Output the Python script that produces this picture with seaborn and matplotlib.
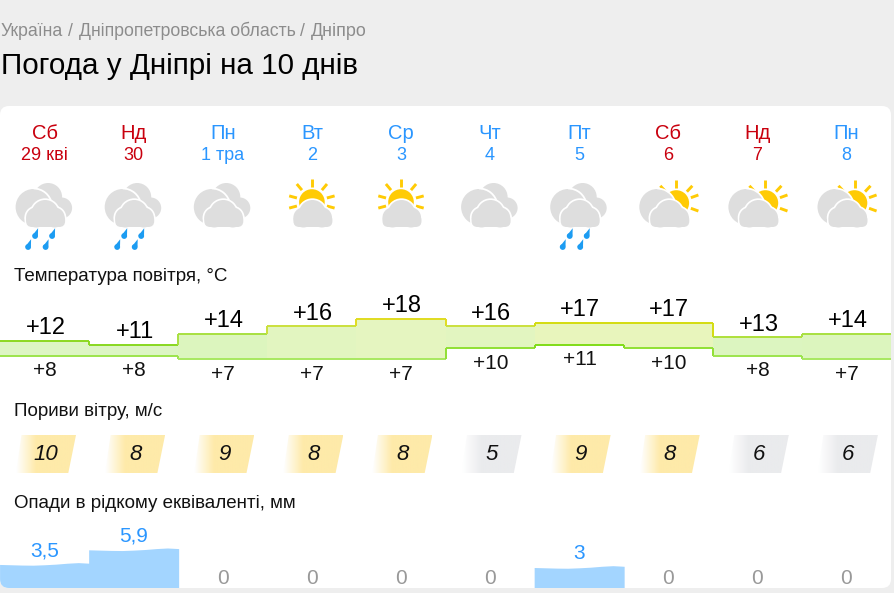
import numpy as np
import pandas as pd
import seaborn as sns
from matplotlib import pyplot as plt
from matplotlib import patches as mpatches
from matplotlib.colors import LinearSegmentedColormap

day_names = ["Сб", "Нд", "Пн", "Вт", "Ср", "Чт", "Пт", "Сб", "Нд", "Пн"]
day_dates = ["29 кві", "30", "1 тра", "2", "3", "4", "5", "6", "7", "8"]
weekend = [True, True, False, False, False, False, False, True, True, False]
icons = ["rain", "rain", "cloud", "sun", "sun", "cloud", "rain", "sunside", "sunside", "sunside"]
temp_high = [12, 11, 14, 16, 18, 16, 17, 17, 13, 14]
temp_low = [8, 8, 7, 7, 7, 10, 11, 10, 8, 7]
wind = [10, 8, 9, 8, 8, 5, 9, 8, 6, 6]
precip = [3.5, 5.9, 0, 0, 0, 0, 3, 0, 0, 0]
precip_labels = ["3,5", "5,9", "0", "0", "0", "0", "3", "0", "0", "0"]
# little wave on top of the water, in mm
wave = [0.0, -0.05, -0.1, -0.12, -0.05, 0.05, 0.2, 0.3, 0.2]

fill_colors = {11: "#dcf5c4", 12: "#ddf5c4", 13: "#dcf5c0", 14: "#dcf5be", 16: "#e2f5c0", 17: "#e8f5bc", 18: "#e5f5c0"}
high_edges = {11: "#88d820", 12: "#8cd820", 13: "#aee03a", 14: "#a8e040", 16: "#cbe03c", 17: "#d4dc10", 18: "#e0dc20"}
low_edges = {7: "#a8e860", 8: "#9ce44c", 10: "#90e034", 11: "#80dc18"}

RED = "#c9000e"
BLUE = "#2a96ff"
GRAY = "#dedede"
W, H = 894, 593
COL = 89.1

sns.set_theme(style="white")
plt.rcParams["font.family"] = ["Liberation Sans", "DejaVu Sans"]

fig = plt.figure(figsize=(W / 100, H / 100), dpi=100, facecolor="#eeeeee")
page = fig.add_axes([0, 0, 1, 1])
page.set_xlim(0, W)
page.set_ylim(H, 0)
page.axis("off")

card = mpatches.FancyBboxPatch((0, 106), 891, 482, boxstyle="round,pad=0,rounding_size=9", fc="white", ec="none")
page.add_patch(card)

page.text(1, 31, "Україна", fontsize=12.7, color="#8c8c8c", va="center")
page.text(68, 31, "/", fontsize=12.7, color="#8c8c8c", va="center")
page.text(79, 31, "Дніпропетровська область", fontsize=12.7, color="#8c8c8c", va="center")
page.text(300, 31, "/", fontsize=12.7, color="#8c8c8c", va="center")
page.text(311, 31, "Дніпро", fontsize=12.85, color="#8c8c8c", va="center")
page.text(1, 65.5, "Погода у Дніпрі на 10 днів", fontsize=21.3, color="black", va="center")

page.text(14, 276.5, "Температура повітря, °C", fontsize=13.5, color="#111111", va="center")
page.text(14, 411.5, "Пориви вітру, м/с", fontsize=13.5, color="#111111", va="center")
page.text(14, 503.5, "Опади в рідкому еквіваленті, мм", fontsize=13.5, color="#111111", va="center")


def centre(i):
    return 44.6 + COL * i


def cloud(cx, top):
    # front cloud with a thin white rim, cx and top are its middle and top
    circles = [(cx, top + 13.5, 13.5), (cx - 9, top + 17.5, 10), (cx + 9.5, top + 17.5, 10)]
    for x, y, r in circles:
        page.add_patch(mpatches.Circle((x, y), r + 1.7, fc="white", ec="none", zorder=3))
    page.add_patch(mpatches.FancyBboxPatch((cx - 20.5, top + 12), 42, 17, boxstyle="round,pad=0,rounding_size=7",
                                           fc="white", ec="none", zorder=3))
    for x, y, r in circles:
        page.add_patch(mpatches.Circle((x, y), r, fc=GRAY, ec="none", zorder=4))
    page.add_patch(mpatches.FancyBboxPatch((cx - 19, top + 14), 39, 13, boxstyle="round,pad=0,rounding_size=6",
                                           fc=GRAY, ec="none", zorder=4))


def back_clouds(cx, with_right=True):
    page.add_patch(mpatches.Circle((cx - 11, 207), 18, fc=GRAY, ec="none", zorder=2))
    page.add_patch(mpatches.Circle((cx - 2, 217), 9, fc=GRAY, ec="none", zorder=2))
    if with_right:
        page.add_patch(mpatches.Circle((cx + 3.5, 197), 14, fc=GRAY, ec="none", zorder=1))
        page.add_patch(mpatches.Circle((cx + 17, 208), 10.5, fc=GRAY, ec="none", zorder=1))
        page.add_patch(mpatches.Circle((cx + 6, 206), 14, fc=GRAY, ec="none", zorder=1))
    # white rim between the left cloud and the right ones
    page.add_patch(mpatches.Arc((cx - 11, 207), 37, 37, theta1=270, theta2=350, color="white", lw=1.3, zorder=2.5))


def sun(cx, cy, angles):
    page.add_patch(mpatches.Circle((cx, cy), 12.8, fc="#ffcb05", ec="none", zorder=1))
    for a in angles:
        t = np.deg2rad(a)
        page.plot([cx + 15.5 * np.cos(t), cx + 23.5 * np.cos(t)], [cy - 15.5 * np.sin(t), cy - 23.5 * np.sin(t)],
                  color="#ffcb05", lw=2.1, solid_capstyle="butt", zorder=1)


def drop(x, y):
    tail = mpatches.Polygon([(x - 2.8, y + 0.5), (x + 3, y - 6.8), (x + 2.8, y + 0.5)], fc="#1c9cf2", ec="none", zorder=4)
    body = mpatches.Circle((x, y + 1), 2.9, fc="#1c9cf2", ec="none", zorder=4)
    page.add_patch(tail)
    page.add_patch(body)


for i, (name, date, kind) in enumerate(zip(day_names, day_dates, icons)):
    c = RED if weekend[i] else BLUE
    x = centre(i)
    page.text(x, 133.5, name, fontsize=14.5, color=c, ha="center", va="center")
    page.text(x, 155, date, fontsize=13, color=c, ha="center", va="center")
    if kind in ("rain", "cloud"):
        back_clouds(x)
        cloud(x + 0.5, 200)
    if kind == "rain":
        for dx, dy in [(-9.5, 235), (7.5, 235), (-16.5, 246), (1, 246)]:
            drop(x + dx, dy)
    if kind == "sun":
        sun(x, 202, [90, 50, 130, 15, 165, -15, 195])
        cloud(x + 0.5, 200)
    if kind == "sunside":
        sun(x + 8, 203, [90, 47, 133, 20, -20])
        back_clouds(x, with_right=False)
        cloud(x + 1, 200)

# temperature band, 3.67 px per degree
t_top, t_bot = 20, 5
y_of = lambda t: 341 + (12 - t) * 3.67
temp_ax = fig.add_axes([0, 1 - y_of(t_bot) / H, 891 / W, (y_of(t_bot) - y_of(t_top)) / H])
temp_ax.patch.set_alpha(0)
temp = pd.DataFrame({"day": range(10), "high": temp_high, "low": temp_low})
temp["span"] = temp["high"] - temp["low"]
sns.barplot(data=temp, x="day", y="span", bottom=temp["low"].values, width=1, color="#ddf5c4", saturation=1,
            linewidth=0, ax=temp_ax)
for bar, t in zip(temp_ax.patches, temp_high):
    bar.set_facecolor(fill_colors[t])
temp_ax.set_xlim(-0.5, 9.5)
temp_ax.set_ylim(t_bot, t_top)
temp_ax.axis("off")
for i in range(10):
    temp_ax.hlines(temp_high[i], i - 0.5, i + 0.5, color=high_edges[temp_high[i]], lw=1.4)
    temp_ax.hlines(temp_low[i], i - 0.5, i + 0.5, color=low_edges[temp_low[i]], lw=1.4)
    if i < 9:
        hot = max(temp_high[i], temp_high[i + 1])
        temp_ax.vlines(i + 0.5, temp_high[i], temp_high[i + 1], color=high_edges[hot], lw=1.4)
        temp_ax.vlines(i + 0.5, temp_low[i], temp_low[i + 1], color=low_edges[max(temp_low[i], temp_low[i + 1])], lw=1.4)
    temp_ax.annotate("+%d" % temp_high[i], (i, temp_high[i]), xytext=(0.8, 9), textcoords="offset points",
                     ha="center", va="center", fontsize=17, color="black")
    temp_ax.annotate("+%d" % temp_low[i], (i, temp_low[i]), xytext=(0.3, -11), textcoords="offset points",
                     ha="center", va="center", fontsize=15, color="#111111")

# wind flags
for i, v in enumerate(wind):
    left = COL * i
    col = "#feeaa9" if v >= 8 else "#eaebed"
    cmap = LinearSegmentedColormap.from_list("flag", ["#ffffff", col, col, col])
    im = page.imshow(np.linspace(0, 1, 64)[None, :], extent=(left + 16, left + 76, 473, 435), aspect="auto",
                     cmap=cmap, vmin=0, vmax=1, zorder=2)
    flag = mpatches.Polygon([(left + 21.5, 435), (left + 76, 435), (left + 68.3, 473), (left + 16, 473)],
                            transform=page.transData, fc="none", ec="none")
    page.add_patch(flag)
    im.set_clip_path(flag)
    page.text(left + 46, 454, str(v), fontsize=16, style="italic", color="#111111", ha="center", va="center", zorder=3)
page.set_xlim(0, W)
page.set_ylim(H, 0)

# precipitation
p_bot = 589
p_scale = 6.1
p_zero = 585.8
p_top_mm = 8
rain_ax = fig.add_axes([0, 1 - p_bot / H, 891 / W, (p_bot - (p_zero - p_top_mm * p_scale)) / H])
rain_ax.patch.set_alpha(0)
rain_ax.set_xlim(-0.5, 9.5)
rain_ax.set_ylim(-(p_bot - p_zero) / p_scale, p_top_mm)
rain_ax.axis("off")
for i, v in enumerate(precip):
    if v > 0:
        # a hair wider than the column so neighbours leave no seam
        xs = np.linspace(i - 0.505, i + 0.505, len(wave))
        poly = rain_ax.fill_between(xs, rain_ax.get_ylim()[0], v + np.array(wave), color="#a3d5ff", lw=0)
        poly.set_clip_path(card)
        rain_ax.annotate(precip_labels[i], (i, v), xytext=(0, 10), textcoords="offset points", ha="center",
                         va="center", fontsize=15, color=BLUE)
    else:
        rain_ax.annotate(precip_labels[i], (i, 0), xytext=(0, 5), textcoords="offset points", ha="center",
                         va="center", fontsize=15, color="#999999")

fig.savefig("out.png", dpi=100, facecolor=fig.get_facecolor())
